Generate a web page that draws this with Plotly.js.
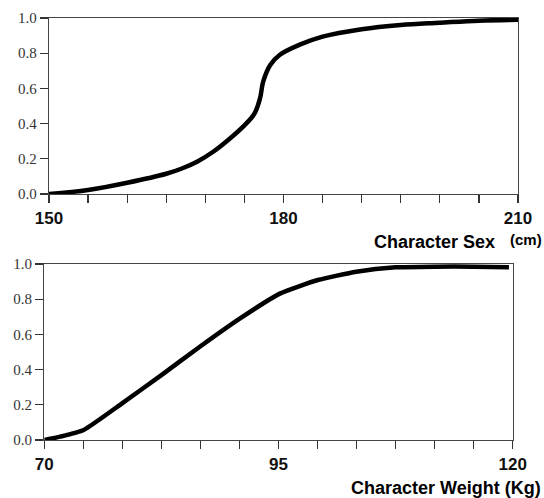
<!DOCTYPE html>
<html>
<head>
<meta charset="utf-8">
<script src="https://cdn.plot.ly/plotly-3.0.1.min.js"></script>
<style>html,body{margin:0;padding:0;background:#fff}#chart{width:544px;height:498px}</style>
</head>
<body>
<div id="chart"></div>
<script>
// Top panel: height (cm) cumulative curve
const sexX = [150, 155, 160, 165, 167, 169, 171, 173, 175, 176.3, 177, 177.4, 178.3, 179.5, 182, 185, 190, 195, 200, 205, 210];
const sexY = [0, 0.023, 0.064, 0.115, 0.145, 0.185, 0.24, 0.31, 0.39, 0.458, 0.544, 0.638, 0.733, 0.79, 0.847, 0.894, 0.936, 0.96, 0.973, 0.985, 0.99];
const sexTickVals = [150, 155, 160, 165, 170, 175, 180, 185, 190, 195, 200, 205, 210];
const sexTickText = ['150', '', '', '', '', '', '180', '', '', '', '', '', '210'];

// Bottom panel: weight (Kg) cumulative curve
const weightX = [70, 71.7, 74.2, 78.3, 82.5, 86.6, 90.9, 95.2, 99.2, 103.3, 107.5, 111.7, 115.8, 119.6];
const weightY = [0, 0.019, 0.057, 0.208, 0.369, 0.53, 0.691, 0.833, 0.909, 0.956, 0.981, 0.985, 0.985, 0.981];
const weightTickVals = Array.from({length: 13}, (_, i) => 70 + i * 25 / 6);
const weightTickText = ['70', '', '', '', '', '', '95', '', '', '', '', '', '120'];

const yTickVals = [0, 0.2, 0.4, 0.6, 0.8, 1.0];
const yTickText = ['0.0', '0.2', '0.4', '0.6', '0.8', '1.0'];

const W = 544, H = 498;
const px = v => v / W;
const py = v => 1 - v / H;

const traces = [
  {x: sexX, y: sexY, xaxis: 'x', yaxis: 'y', mode: 'lines',
   line: {color: '#000', width: 4.5, shape: 'spline', smoothing: 1}, hoverinfo: 'skip'},
  {x: weightX, y: weightY, xaxis: 'x2', yaxis: 'y2', mode: 'lines',
   line: {color: '#000', width: 4.5, shape: 'spline', smoothing: 0.5}, hoverinfo: 'skip'}
];

const SANS = 'Liberation Sans';
const SERIF = 'Liberation Serif, Times New Roman, Times, DejaVu Serif, serif';
const xFont = {family: SANS, size: 17, color: '#111', weight: 'bold'};
const yFont = {family: SERIF, size: 15, color: '#333'};

function xAxis(domain, range, vals, text, anchor) {
  return {
    domain: domain, range: range, anchor: anchor,
    tickmode: 'array', tickvals: vals, ticktext: text,
    ticks: 'outside', ticklen: 8, tickwidth: 1.2, tickcolor: '#333',
    showline: true, linecolor: '#444', linewidth: 1.2, mirror: true,
    showgrid: false, zeroline: false, tickfont: xFont, ticklabelstandoff: 0
  };
}
function yAxis(domain, anchor) {
  return {
    domain: domain, range: [0, 1], anchor: anchor,
    tickmode: 'array', tickvals: yTickVals, ticktext: yTickText,
    ticks: 'outside', ticklen: 8, tickwidth: 1.2, tickcolor: '#333',
    showline: true, linecolor: '#444', linewidth: 1.2, mirror: true,
    showgrid: false, zeroline: false, tickfont: yFont, ticklabelstandoff: 0
  };
}

const layout = {
  width: W, height: H,
  margin: {l: 0, r: 0, t: 0, b: 0},
  paper_bgcolor: '#fff', plot_bgcolor: '#fff',
  showlegend: false,
  font: {family: SERIF},
  xaxis: xAxis([px(49), px(518)], [150, 210], sexTickVals, sexTickText, 'y'),
  yaxis: yAxis([py(194), py(18)], 'x'),
  xaxis2: xAxis([px(44.3), px(512.7)], [70, 120], weightTickVals, weightTickText, 'y2'),
  yaxis2: yAxis([py(440), py(264)], 'x2'),
  annotations: [
    {text: 'Character Sex', xref: 'paper', yref: 'paper', x: px(497), y: py(242),
     xanchor: 'right', yanchor: 'middle', showarrow: false,
     font: {family: SANS, size: 18, color: '#000', weight: 'bold'}},
    {text: '(cm)', xref: 'paper', yref: 'paper', x: px(508), y: py(239),
     xanchor: 'left', yanchor: 'middle', showarrow: false,
     font: {family: SANS, size: 15, color: '#000', weight: 'bold'}},
    {text: 'Character Weight (Kg)', xref: 'paper', yref: 'paper', x: px(543), y: py(488),
     xanchor: 'right', yanchor: 'middle', showarrow: false,
     font: {family: SANS, size: 18, color: '#000', weight: 'bold'}}
  ]
};

Plotly.newPlot('chart', traces, layout, {staticPlot: true, displayModeBar: false});
</script>
</body>
</html>
